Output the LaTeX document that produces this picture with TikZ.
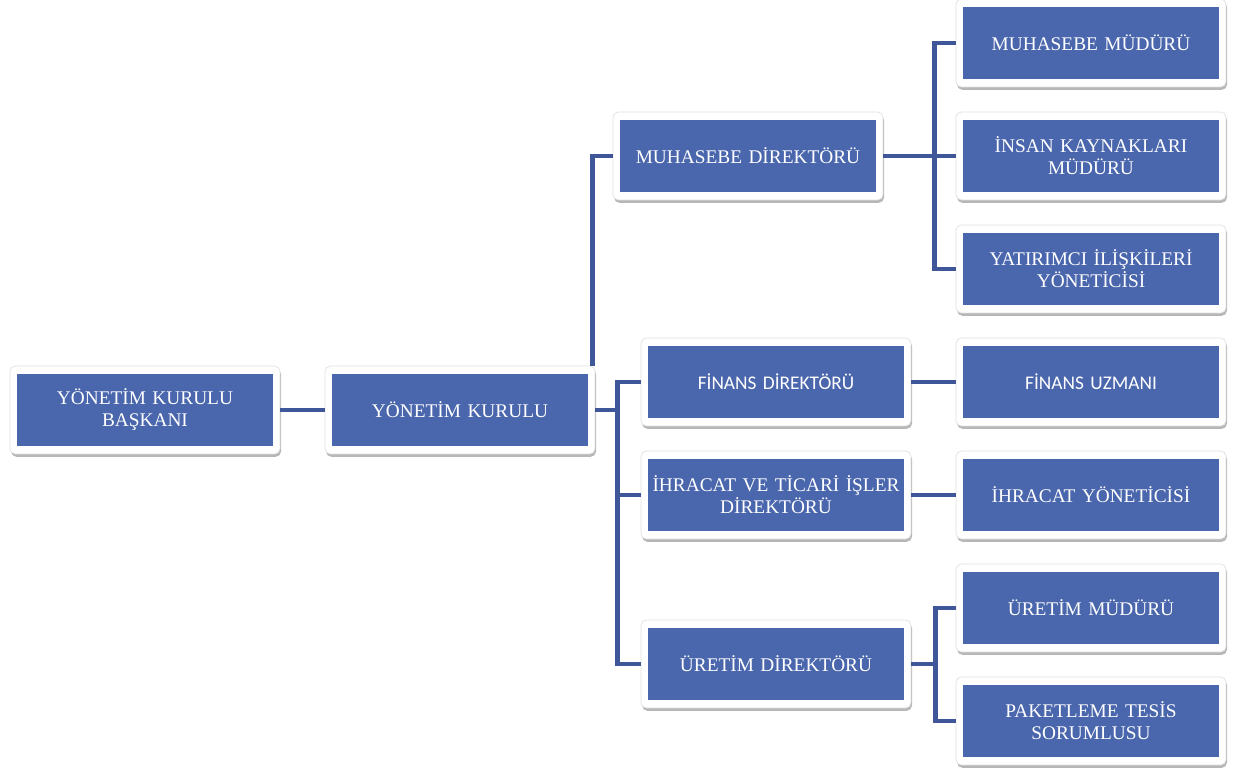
\documentclass[tikz,border=0pt]{standalone}
\usepackage{fontspec}
\setmainfont{Liberation Serif}
\newfontfamily\finfont{Carlito}
\usetikzlibrary{shadows}

\definecolor{orgblue}{RGB}{74,102,172}
\definecolor{orgline}{RGB}{63,87,152}

\tikzset{
  unit/.style={draw=black!12, line width=0.4pt, fill=white, rounded corners=3pt,
    minimum width=5.4cm, minimum height=1.76cm, text width=5.1cm,
    align=center, text=white, font=\fontsize{11}{12.5}\selectfont,
    drop shadow={shadow xshift=0.6pt, shadow yshift=-1.6pt, opacity=0.4, fill=black!70},
    path picture={\fill[orgblue, sharp corners]
      ([shift={(0.14cm,0.16cm)}]path picture bounding box.south west) rectangle
      ([shift={(-0.14cm,-0.16cm)}]path picture bounding box.north east);}},
  finunit/.style={unit, font=\finfont\fontsize{11}{12.5}\selectfont},
  link/.style={draw=orgline, line width=2.8pt}
}

\begin{document}
\begin{tikzpicture}[x=0.02cm, y=-0.02cm]
\useasboundingbox (0,0) rectangle (1234,773);

\node[unit] (bkn) at (145,410) {YÖNETİM KURULU\\BAŞKANI};
\node[unit] (yk) at (460,410) {YÖNETİM KURULU};

\node[unit] (mdir) at (748,156) {MUHASEBE DİREKTÖRÜ};
\node[finunit] (fdir) at (776,382) {FİNANS DİREKTÖRÜ};
\node[unit] (idir) at (776,495) {İHRACAT VE TİCARİ İŞLER\\DİREKTÖRÜ};
\node[unit] (udir) at (776,664) {ÜRETİM DİREKTÖRÜ};

\node[unit] (mmud) at (1091,43) {MUHASEBE MÜDÜRÜ};
\node[unit] (ikmud) at (1091,156) {İNSAN KAYNAKLARI\\MÜDÜRÜ};
\node[unit] (yiy) at (1091,269) {YATIRIMCI İLİŞKİLERİ\\YÖNETİCİSİ};
\node[finunit] (fuz) at (1091,382) {FİNANS UZMANI};
\node[unit] (iy) at (1091,495) {İHRACAT YÖNETİCİSİ};
\node[unit] (umud) at (1091,608) {ÜRETİM MÜDÜRÜ};
\node[unit] (pts) at (1091,721) {PAKETLEME TESİS\\SORUMLUSU};

\draw[link] (bkn.east) -- (yk.west);
\draw[link] ([xshift=-0.06cm]yk.north east) |- (mdir.west);

\coordinate (ykbus) at ([xshift=0.44cm]yk.east);
\draw[link] (yk.east) -- (ykbus);
\foreach \n in {fdir,idir,udir}
  \draw[link] (ykbus) |- (\n.west);

\coordinate (mbus) at ([xshift=1.02cm]mdir.east);
\draw[link] (mdir.east) -- (mbus);
\foreach \n in {mmud,ikmud,yiy}
  \draw[link] (mbus) |- (\n.west);

\draw[link] (fdir.east) -- (fuz.west);
\draw[link] (idir.east) -- (iy.west);

\coordinate (ubus) at ([xshift=0.48cm]udir.east);
\draw[link] (udir.east) -- (ubus);
\foreach \n in {umud,pts}
  \draw[link] (ubus) |- (\n.west);

\end{tikzpicture}
\end{document}
